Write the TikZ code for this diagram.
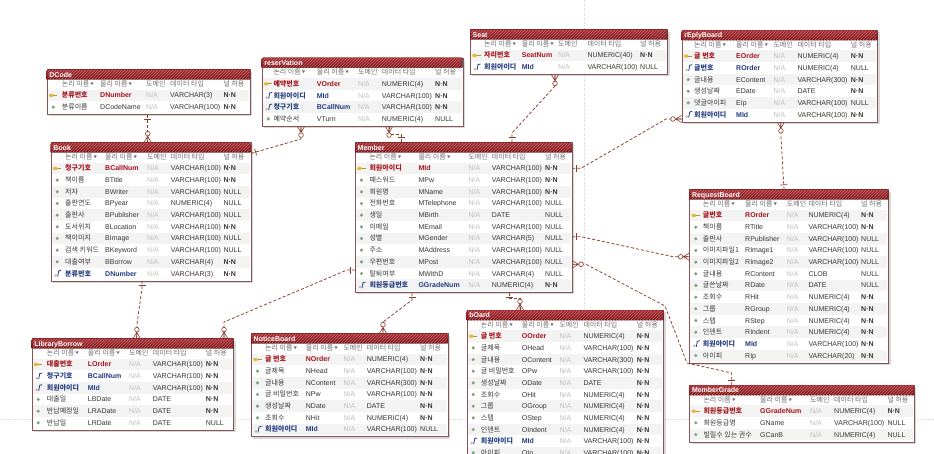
\documentclass[tikz,border=0pt]{standalone}
\usepackage{fontspec}
\setmainfont{Liberation Sans}
\newfontfamily\kr{Noto Sans CJK KR}
\usepackage{tikz}
\usetikzlibrary{calc,shadows,patterns,decorations.markings}
\definecolor{titletop}{RGB}{170,46,50}
\definecolor{titlebot}{RGB}{118,16,20}
\definecolor{tabline}{RGB}{135,85,85}
\definecolor{relred}{RGB}{140,58,42}
\definecolor{pkred}{RGB}{165,20,30}
\definecolor{fkblue}{RGB}{35,60,130}
\definecolor{txtgray}{RGB}{55,55,55}
\definecolor{hdrgray}{RGB}{110,110,110}
\definecolor{nagray}{RGB}{190,190,190}
\definecolor{rowgray}{RGB}{243,243,243}
\definecolor{keyyellow}{RGB}{228,186,56}
\definecolor{atgreen}{RGB}{120,165,120}
\tikzset{>=stealth}
\tikzset{
  tabbody/.style={draw=tabline, line width=0.6pt, fill=white, anchor=north west,
    inner sep=0pt, drop shadow={opacity=0.3, shadow xshift=2pt, shadow yshift=-2pt}},
  titlebar/.style={top color=titletop, bottom color=titlebot},
  titlehatch/.style={pattern=north east lines, pattern color=titletop!70!white},
  titletext/.style={anchor=base west, inner sep=0pt, text=white,
    font=\fontsize{7}{8}\selectfont\bfseries},
  cell/.style={anchor=base west, inner sep=0pt, text=txtgray,
    font=\fontsize{7}{8}\selectfont},
  hcell/.style={cell, text=hdrgray},
  pkey/.style={text=pkred, font=\fontsize{7}{8}\selectfont\bfseries},
  fkey/.style={text=fkblue, font=\fontsize{7}{8}\selectfont\bfseries},
  attr/.style={},
  na/.style={text=nagray},
  pagebreak/.style={draw=gray!35, dash pattern=on 1pt off 1.5pt, line width=0.5pt},
  rel/.style={draw=relred, line width=0.75pt, dash pattern=on 3pt off 2pt},
}
\tikzset{
  onefrom/.style={
    postaction={
      decorate,
      decoration={
        markings,
        mark=at position 4.5pt with {\draw[relred,solid,line width=0.7pt] (0pt,-3.5pt) -- (0pt,3.5pt);},
   }}}}
\tikzset{
  manyto/.style={
    postaction={
      decorate,
      decoration={
        markings,
        mark=at position 0.999 with {\draw[relred,solid,line width=0.6pt]
          (-6pt,0pt) -- (0pt,3.5pt) (-6pt,0pt) -- (0pt,-3.5pt) (-6pt,0pt) -- (0pt,0pt);
          \draw[relred,solid,line width=0.6pt,fill=white] (-8.6pt,0pt) circle (2.3pt);},
   }}}}
\newcommand{\notnull}{\textbf{N·N}}
\newcommand{\hdrtri}{\,{\fontsize{3.5}{4}\selectfont\raisebox{0.8pt}{▼}}}
\newcommand{\ercols}[5]{\def\cL{#1}\def\cP{#2}\def\cD{#3}\def\cT{#4}\def\cN{#5}}
\newcommand{\iconattr}{\fill[atgreen] (\tL+6.5,\ry) circle (1.7pt);}
\newcommand{\iconpkey}{\fill[keyyellow] (\tL+4.5,\ry) ellipse (2.4pt and 1.7pt);
  \draw[keyyellow!80!black, line width=0.9pt] (\tL+6.5,\ry) -- (\tL+10.5,\ry);}
\newcommand{\iconfkey}{\draw[fkblue, line width=0.8pt] (\tL+7,\ry+3) -- (\tL+8,\ry-2.5) -- (\tL+10.5,\ry-3.2);
  \fill[gray!60] (\tL+5,\ry+2) circle (1.3pt);}
% table: name, title, left, top, right, rows
\newcommand{\ertable}[6]{%
  \def\tN{#1}\def\tL{#3}\def\tT{#4}\def\tR{#5}%
  \pgfmathsetmacro\tW{#5-#3}%
  \pgfmathsetmacro\tH{21.5+11.67*#6}%
  \node[tabbody, minimum width=\tW pt, minimum height=\tH pt] (#1) at (#3,#4) {};
  \fill[titlebar] (#3,#4+10) [rounded corners=1.5pt] -- (#3,#4) -- (#5,#4) [sharp corners] -- (#5,#4+10) -- cycle;
  \fill[titlehatch] (#3+1,#4+1) rectangle (#5-1,#4+10);
  \node[titletext] (#1-title) at (#3+2.5,#4+7.7) {#2};
  \pgfmathsetmacro\hy{#4+17}%
  \node[hcell] (#1-h1) at (\cL,\hy) {\kr 논리 이름\hdrtri};
  \node[hcell] (#1-h2) at (\cP,\hy) {\kr 물리 이름\hdrtri};
  \node[hcell] (#1-h3) at (\cD,\hy) {\kr 도메인};
  \node[hcell] (#1-h4) at (\cT,\hy) {\kr 데이터 타입};
  \node[hcell] (#1-h5) at (\cN,\hy) {\kr 널 허용};
}
% row: index, kind, logical, physical, type, null
\newcommand{\erow}[6]{%
  \pgfmathsetmacro\ry{\tT+14.5+11.67*#1}%
  \pgfmathsetmacro\rb{\ry+2.5}%
  \ifodd#1\relax\fill[rowgray] (\tL+1,\ry-5.8) rectangle (\tR-1,\ry+5.8);\fi
  \csname icon#2\endcsname
  \node[cell,#2] (\tN-#1l) at (\cL,\rb) {\kr #3};
  \node[cell,#2] (\tN-#1p) at (\cP,\rb) {#4};
  \node[cell,na] (\tN-#1d) at (\cD,\rb) {N/A};
  \node[cell] (\tN-#1t) at (\cT,\rb) {#5};
  \node[cell] (\tN-#1n) at (\cN,\rb) {#6};
}

\begin{document}
\begin{tikzpicture}[x=1pt,y=-1pt]
    \useasboundingbox (0,0) rectangle (934,453);
    \clip (0,0) rectangle (934,453);
    \fill[white] (0,0) rectangle (934,453);
    \draw[pagebreak] (584,0) -- (584,453);
    \draw[pagebreak] (0,419) -- (934,419);

    \ercols{61.7}{100}{146}{170}{223.3}
    \ertable{dcode}{DCode}{46.7}{69.3}{250}{2}
    \erow{1}{pkey}{분류번호}{DNumber}{VARCHAR(3)}{\notnull}
    \erow{2}{attr}{분류이름}{DCodeName}{VARCHAR(100)}{\notnull}

    \ercols{273.3}{316.7}{358}{381.7}{435}
    \ertable{reserv}{reserVation}{261.7}{57.7}{462.7}{4}
    \erow{1}{pkey}{예약번호}{VOrder}{NUMERIC(4)}{\notnull}
    \erow{2}{fkey}{회원아이디}{MId}{VARCHAR(100)}{\notnull}
    \erow{3}{fkey}{청구기호}{BCallNum}{VARCHAR(100)}{\notnull}
    \erow{4}{attr}{예약순서}{VTurn}{NUMERIC(4)}{NULL}

    \ercols{484}{521.7}{558}{587.3}{640}
    \ertable{seat}{Seat}{470}{29.3}{667.3}{2}
    \erow{1}{pkey}{자리번호}{SeatNum}{NUMERIC(40)}{\notnull}
    \erow{2}{fkey}{회원아이디}{MId}{VARCHAR(100)}{NULL}

    \ercols{694}{736}{773.3}{797.3}{850.7}
    \ertable{reply}{rEplyBoard}{681.7}{30}{877.3}{6}
    \erow{1}{pkey}{글 번호}{EOrder}{NUMERIC(4)}{\notnull}
    \erow{2}{fkey}{글번호}{ROrder}{NUMERIC(4)}{NULL}
    \erow{3}{attr}{글내용}{EContent}{VARCHAR(300)}{\notnull}
    \erow{4}{attr}{생성날짜}{EDate}{DATE}{\notnull}
    \erow{5}{attr}{댓글아이피}{EIp}{VARCHAR(100)}{NULL}
    \erow{6}{fkey}{회원아이디}{MId}{VARCHAR(100)}{\notnull}

    \ercols{65}{105}{147}{170.7}{223.3}
    \ertable{book}{Book}{50.7}{142.3}{250.7}{10}
    \erow{1}{pkey}{청구기호}{BCallNum}{VARCHAR(100)}{\notnull}
    \erow{2}{attr}{책이름}{BTitle}{VARCHAR(100)}{\notnull}
    \erow{3}{attr}{저자}{BWriter}{VARCHAR(100)}{NULL}
    \erow{4}{attr}{출판연도}{BPyear}{NUMERIC(4)}{NULL}
    \erow{5}{attr}{출판사}{BPublisher}{VARCHAR(100)}{NULL}
    \erow{6}{attr}{도서위치}{BLocation}{VARCHAR(100)}{\notnull}
    \erow{7}{attr}{책이미지}{BImage}{VARCHAR(100)}{NULL}
    \erow{8}{attr}{검색 키워드}{BKeyword}{VARCHAR(100)}{NULL}
    \erow{9}{attr}{대출여부}{BBorrow}{VARCHAR(4)}{\notnull}
    \erow{10}{fkey}{분류번호}{DNumber}{VARCHAR(3)}{\notnull}

    \ercols{369.3}{418.3}{468.3}{491.7}{545}
    \ertable{member}{Member}{355}{142.3}{571.7}{11}
    \erow{1}{pkey}{회원아이디}{MId}{VARCHAR(100)}{\notnull}
    \erow{2}{attr}{패스워드}{MPw}{VARCHAR(100)}{\notnull}
    \erow{3}{attr}{회원명}{MName}{VARCHAR(100)}{\notnull}
    \erow{4}{attr}{전화번호}{MTelephone}{VARCHAR(100)}{NULL}
    \erow{5}{attr}{생일}{MBirth}{DATE}{NULL}
    \erow{6}{attr}{이메일}{MEmail}{VARCHAR(100)}{NULL}
    \erow{7}{attr}{성별}{MGender}{VARCHAR(5)}{NULL}
    \erow{8}{attr}{주소}{MAddress}{VARCHAR(100)}{NULL}
    \erow{9}{attr}{우편번호}{MPost}{VARCHAR(100)}{NULL}
    \erow{10}{attr}{탈퇴여부}{MWithD}{VARCHAR(4)}{NULL}
    \erow{11}{fkey}{회원등급번호}{GGradeNum}{NUMERIC(4)}{\notnull}

    \ercols{702.7}{745}{786.7}{808.3}{861}
    \ertable{request}{RequestBoard}{689.3}{189.3}{888.3}{13}
    \erow{1}{pkey}{글번호}{ROrder}{NUMERIC(4)}{\notnull}
    \erow{2}{attr}{책이름}{RTitle}{VARCHAR(100)}{\notnull}
    \erow{3}{attr}{출판사}{RPublisher}{VARCHAR(100)}{NULL}
    \erow{4}{attr}{이미지파일1}{RImage1}{VARCHAR(100)}{NULL}
    \erow{5}{attr}{이미지파일2}{RImage2}{VARCHAR(100)}{NULL}
    \erow{6}{attr}{글내용}{RContent}{CLOB}{NULL}
    \erow{7}{attr}{글쓴날짜}{RDate}{DATE}{NULL}
    \erow{8}{attr}{조회수}{RHit}{NUMERIC(4)}{\notnull}
    \erow{9}{attr}{그룹}{RGroup}{NUMERIC(4)}{\notnull}
    \erow{10}{attr}{스텝}{RStep}{NUMERIC(4)}{\notnull}
    \erow{11}{attr}{인덴트}{RIndent}{NUMERIC(4)}{\notnull}
    \erow{12}{fkey}{회원아이디}{MId}{VARCHAR(100)}{\notnull}
    \erow{13}{attr}{아이피}{RIp}{VARCHAR(20)}{\notnull}

    \ercols{46.7}{87.7}{129}{152.7}{205.7}
    \ertable{borrow}{LibraryBorrow}{31.7}{338.3}{233.3}{6}
    \erow{1}{pkey}{대출번호}{LOrder}{VARCHAR(100)}{\notnull}
    \erow{2}{fkey}{청구기호}{BCallNum}{VARCHAR(100)}{\notnull}
    \erow{3}{fkey}{회원아이디}{MId}{VARCHAR(100)}{\notnull}
    \erow{4}{attr}{대출일}{LBDate}{DATE}{\notnull}
    \erow{5}{attr}{반납예정일}{LRADate}{DATE}{\notnull}
    \erow{6}{attr}{반납일}{LRDate}{DATE}{NULL}

    \ercols{265}{305.7}{343.3}{366.7}{420}
    \ertable{notice}{NoticeBoard}{251}{333.3}{447.7}{7}
    \erow{1}{pkey}{글 번호}{NOrder}{NUMERIC(4)}{\notnull}
    \erow{2}{attr}{글제목}{NHead}{VARCHAR(100)}{\notnull}
    \erow{3}{attr}{글내용}{NContent}{VARCHAR(300)}{\notnull}
    \erow{4}{attr}{글 비밀번호}{NPw}{VARCHAR(100)}{\notnull}
    \erow{5}{attr}{생성날짜}{NDate}{DATE}{\notnull}
    \erow{6}{attr}{조회수}{NHit}{NUMERIC(4)}{\notnull}
    \erow{7}{fkey}{회원아이디}{MId}{VARCHAR(100)}{NULL}

    \ercols{480.7}{521.7}{559.3}{583.3}{636.7}
    \ertable{board}{bOard}{466.7}{310}{663.3}{11}
    \erow{1}{pkey}{글 번호}{OOrder}{NUMERIC(4)}{\notnull}
    \erow{2}{attr}{글제목}{OHead}{VARCHAR(100)}{\notnull}
    \erow{3}{attr}{글내용}{OContent}{VARCHAR(300)}{\notnull}
    \erow{4}{attr}{글 비밀번호}{OPw}{VARCHAR(100)}{\notnull}
    \erow{5}{attr}{생성날짜}{ODate}{DATE}{\notnull}
    \erow{6}{attr}{조회수}{OHit}{NUMERIC(4)}{\notnull}
    \erow{7}{attr}{그룹}{OGroup}{NUMERIC(4)}{\notnull}
    \erow{8}{attr}{스텝}{OStep}{NUMERIC(4)}{\notnull}
    \erow{9}{attr}{인덴트}{OIndent}{NUMERIC(4)}{\notnull}
    \erow{10}{fkey}{회원아이디}{MId}{VARCHAR(100)}{\notnull}
    \erow{11}{attr}{아이피}{OIp}{VARCHAR(100)}{\notnull}

    \ercols{703.3}{760}{810}{834}{887.3}
    \ertable{grade}{MemberGrade}{689.3}{385}{914}{3}
    \erow{1}{pkey}{회원등급번호}{GGradeNum}{NUMERIC(4)}{\notnull}
    \erow{2}{attr}{회원등급명}{GName}{VARCHAR(100)}{NULL}
    \erow{3}{attr}{빌릴수 있는 권수}{GCanB}{NUMERIC(4)}{NULL}

    % relationships
    \draw[rel,onefrom,manyto] ($(dcode.south west)+(101,0)$) -- ($(book.north west)+(97,0)$);
    \draw[rel,onefrom,manyto] ($(book.north east)+(0,11)$) -- (301,139) -- ($(reserv.south west)+(39.3,0)$);
    \draw[rel,onefrom,manyto] ($(member.north west)+(46,0)$) -- (401,134) -- (389,134) -- ($(reserv.south west)+(127.3,0)$);
    \draw[rel,onefrom,manyto] ($(member.north west)+(157,0)$) -- (512,133) -- (555,86) -- ($(seat.south west)+(85,0)$);
    \draw[rel,onefrom,manyto] ($(member.north east)+(0,26)$) -- (581,168.3) -- (666,119) -- ($(reply.north west)+(0,89)$);
    \draw[rel,onefrom,manyto] ($(request.north west)+(94.7,0)$) -- (781,137) -- ($(reply.south west)+(99,0)$);
    \draw[rel,onefrom,manyto] ($(member.north east)+(0,94.4)$) -- (581,236.7) -- (673,256.7) -- ($(request.north west)+(0,67.4)$);
    \draw[rel,onefrom,manyto] ($(grade.north west)+(42.4,0)$) -- (731.7,373) -- (687,363) -- (665,306) -- (586,264.3) -- ($(member.north east)+(0,122)$);
    \draw[rel,onefrom,manyto] ($(member.south west)+(154,0)$) -- (509,298) -- (520,298) -- ($(board.north west)+(53.3,0)$);
    \draw[rel,onefrom,manyto] ($(member.south west)+(57,0)$) -- (412,300) -- (383,322) -- ($(notice.north west)+(132,0)$);
    \draw[rel,onefrom,manyto] ($(member.north west)+(0,127.7)$) -- (347,270) -- (224,322) -- ($(borrow.north west)+(192.3,0)$);
    \draw[rel,onefrom,manyto] ($(book.south west)+(91.3,0)$) -- (142,288) -- (137,324) -- ($(borrow.north west)+(105,0)$);
\end{tikzpicture}
\end{document}
